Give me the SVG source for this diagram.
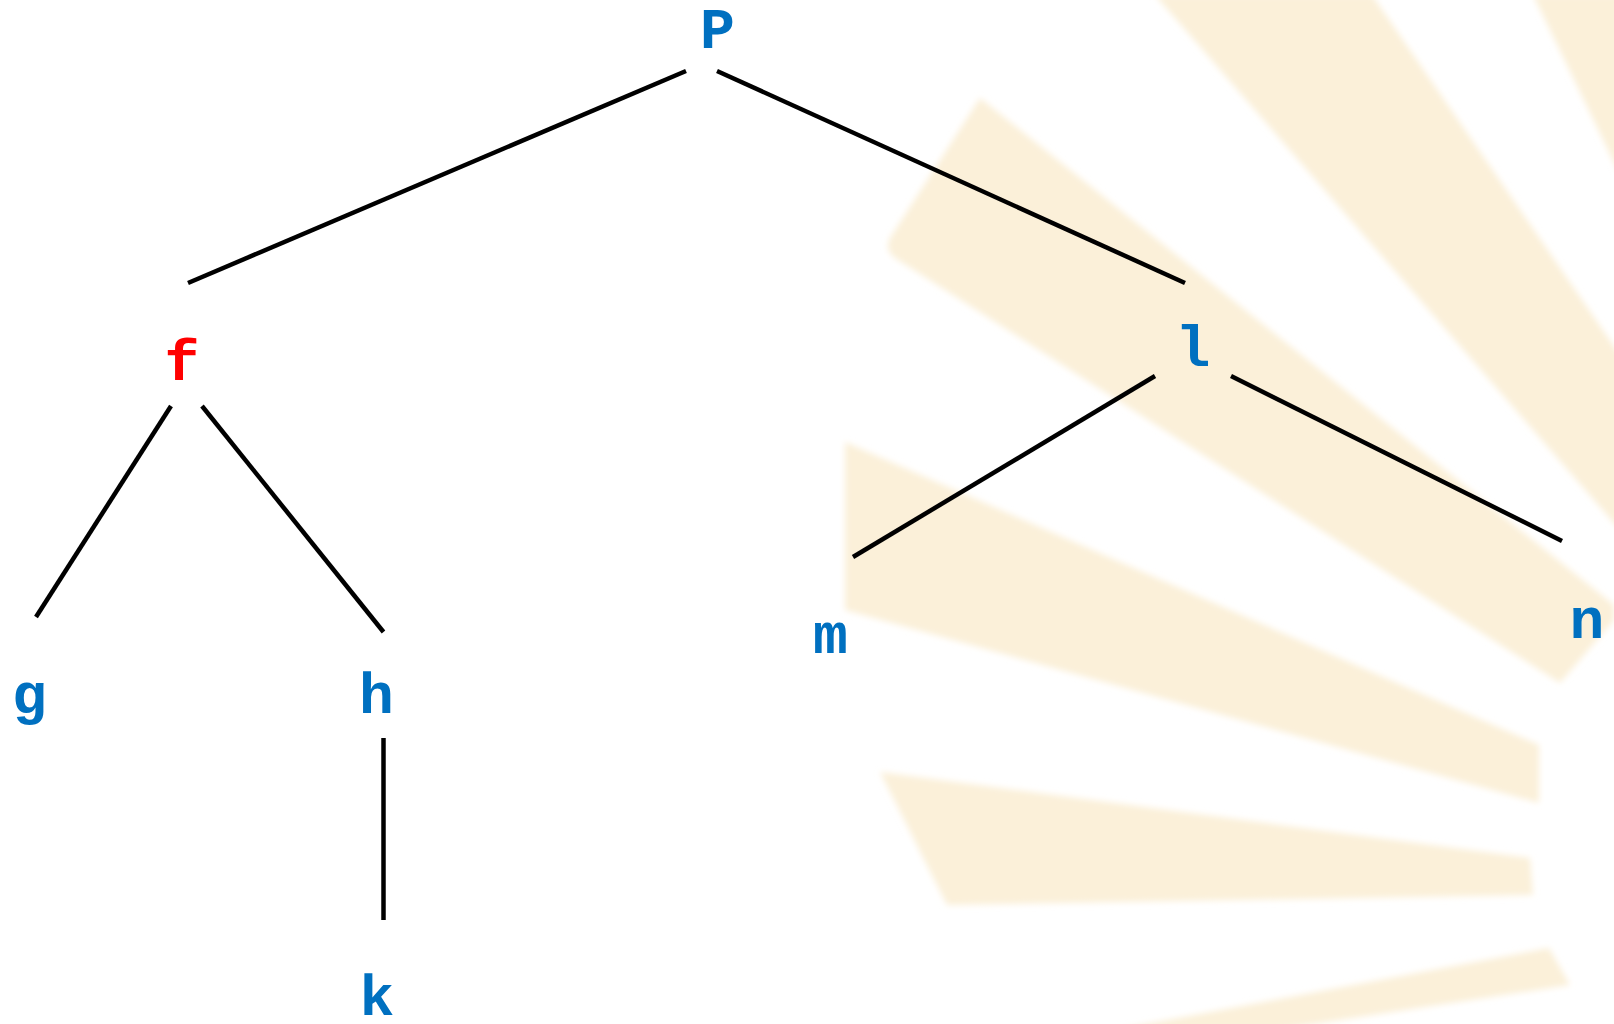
<svg xmlns="http://www.w3.org/2000/svg" width="1614" height="1024" viewBox="0 0 1614 1024">
<defs>
<style>
.lbl{font-family:"Liberation Mono","Courier New",monospace;font-weight:bold;font-size:58px;text-anchor:middle;fill:#0070C0}
.red{fill:#FF0000}
.edge{stroke:#000;stroke-width:4.5;fill:none}
.ray{fill:#FBF0D9}
</style>
<filter id="soft" x="-5%" y="-5%" width="110%" height="110%"><feGaussianBlur stdDeviation="3"/></filter>
</defs>
<rect width="1614" height="1024" fill="#FFFFFF"/>
<g id="background" filter="url(#soft)">
<path class="ray" d="M980,98 L1614,605 L1614,620 L1560,683 L895,258 Q884,250 890,238 Z"/>
<path class="ray" d="M845,442 L1539,745 L1539,803 L845,610 Z"/>
<path class="ray" d="M880,772 L1530,858 L1533,895 L947,905 Z"/>
<path class="ray" d="M1549,948 L1570,985 L1275,1030 L1115,1030 Z"/>
<path class="ray" d="M1155,-5 L1372,-5 L1620,355 L1620,530 Z"/>
<path class="ray" d="M1533,-5 L1620,-5 L1620,175 Z"/>
</g>
<g id="connectors">
<line class="edge" x1="686" y1="71" x2="188" y2="283"/>
<line class="edge" x1="717" y1="71" x2="1185" y2="283"/>
<line class="edge" x1="171" y1="406" x2="36" y2="617"/>
<line class="edge" x1="202" y1="406" x2="383.5" y2="632"/>
<line class="edge" x1="383.5" y1="738" x2="383.5" y2="920"/>
<line class="edge" x1="1155" y1="376" x2="853" y2="557"/>
<line class="edge" x1="1231" y1="376" x2="1562" y2="541"/>
</g>
<g id="node-p"><text class="lbl" x="717.5" y="48">P</text></g>
<g id="node-f"><text class="lbl red" x="182" y="380">f</text></g>
<g id="node-g"><text class="lbl" x="29.5" y="713">g</text></g>
<g id="node-h"><text class="lbl" x="376.5" y="713">h</text></g>
<g id="node-k"><text class="lbl" x="377" y="1015">k</text></g>
<g id="node-l"><text class="lbl" x="1193" y="366">l</text></g>
<g id="node-m"><text class="lbl" x="830.5" y="653">m</text></g>
<g id="node-n"><text class="lbl" x="1587" y="638">n</text></g>
</svg>
